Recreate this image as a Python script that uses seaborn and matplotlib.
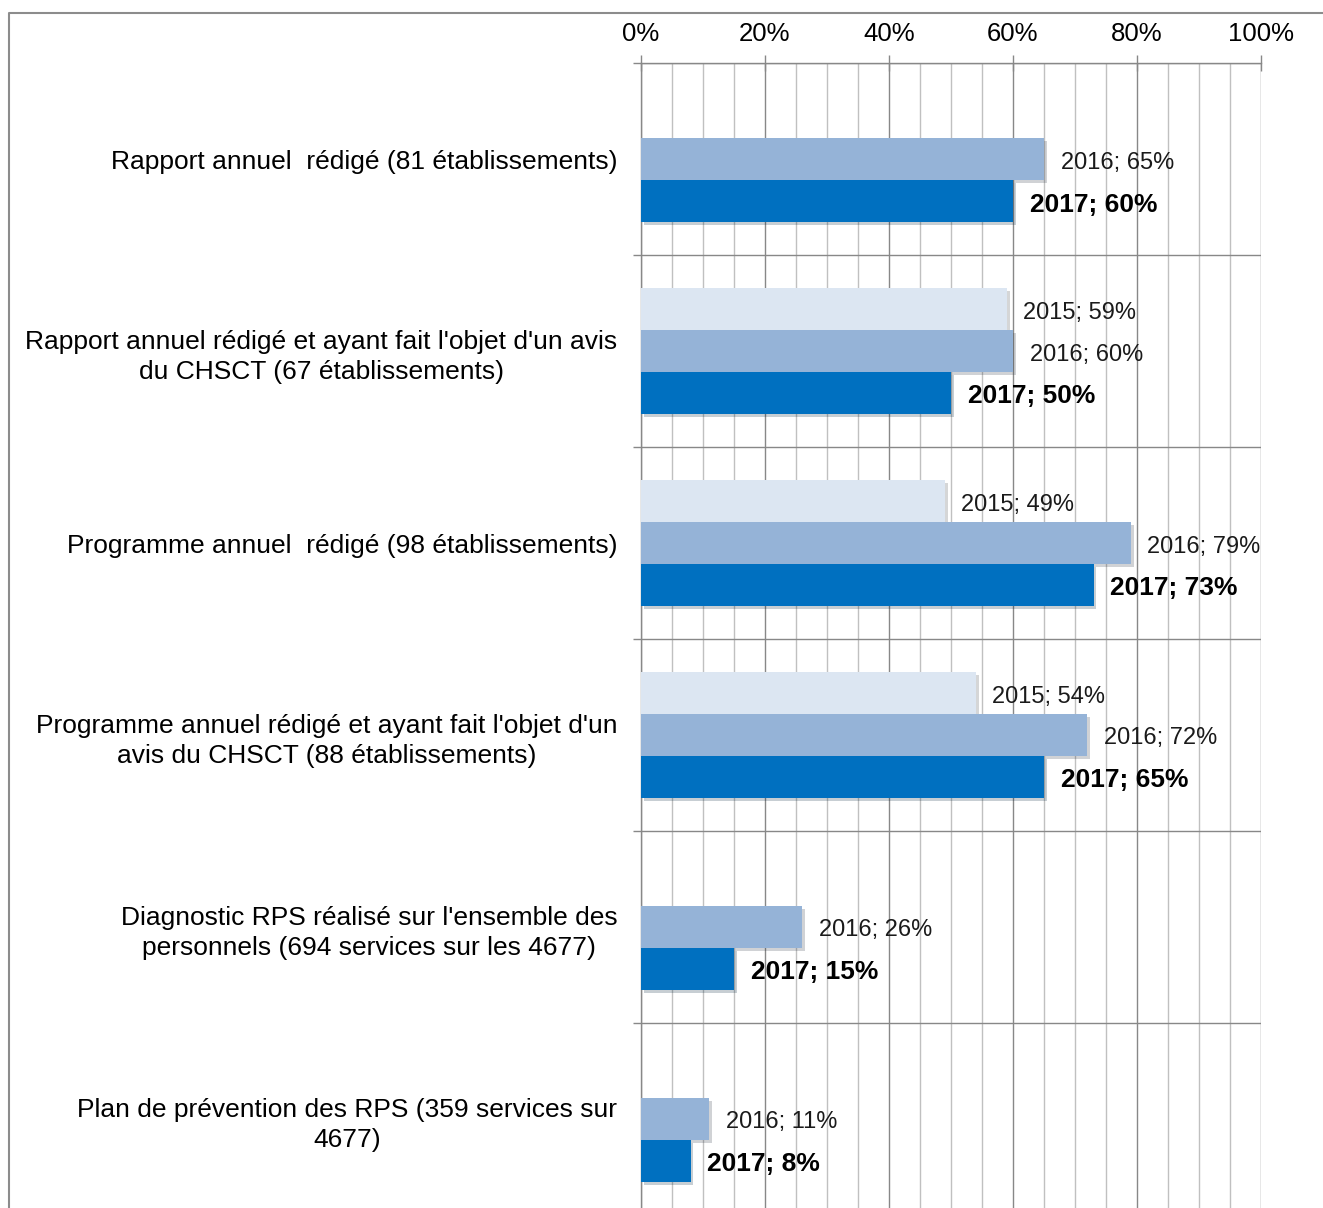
import pandas as pd
import matplotlib
matplotlib.use("Agg")
import matplotlib.pyplot as plt
import matplotlib.patheffects as pe
from matplotlib.lines import Line2D
from matplotlib.ticker import MultipleLocator, FixedLocator
import seaborn as sns

sns.set_theme(style="white")
plt.rcParams['font.family'] = ['Liberation Sans', 'DejaVu Sans']
plt.rcParams['text.color'] = 'black'
plt.rcParams['xtick.color'] = 'black'
plt.rcParams['ytick.color'] = 'black'

# Data
categories = [
    "Rapport annuel  rédigé (81 établissements)",
    "Rapport annuel rédigé et ayant fait l'objet d'un avis\ndu CHSCT (67 établissements)",
    "Programme annuel  rédigé (98 établissements)",
    "Programme annuel rédigé et ayant fait l'objet d'un\navis du CHSCT (88 établissements)",
    "Diagnostic RPS réalisé sur l'ensemble des\npersonnels (694 services sur les 4677)",
    "Plan de prévention des RPS (359 services sur\n4677)",
]
years = ["2015", "2016", "2017"]
vals_2015 = [None, 59, 49, 54, None, None]
vals_2016 = [65, 60, 79, 72, 26, 11]
vals_2017 = [60, 50, 73, 65, 15, 8]
colors = ["#dce6f2", "#95b3d7", "#0070c0"]

rows = []
for yr, vals in zip(years, [vals_2015, vals_2016, vals_2017]):
    for cat, v in zip(categories, vals):
        if v is not None:
            rows.append({"categorie": cat, "annee": yr, "pct": v})
df = pd.DataFrame(rows)

fig = plt.figure(figsize=(13.23, 12.08), dpi=100)
ax = fig.add_axes([0.4845, -0.0058, 0.4686, 0.9536])

sns.barplot(data=df, x="pct", y="categorie", hue="annee", order=categories,
            hue_order=years, palette=colors, orient="h", width=0.656,
            saturation=1, legend=False, ax=ax, zorder=3)

shadow = [pe.SimplePatchShadow(offset=(2, -2), alpha=0.22), pe.Normal()]
for p in ax.patches:
    p.set_path_effects(shadow)
    p.set_edgecolor("none")

for i, cont in enumerate(ax.containers):
    yr = years[i]
    labels = [f"{yr}; {v:.0f}%" for v in cont.datavalues]
    bold = yr == "2017"
    anns = ax.bar_label(cont, labels=labels, padding=12,
                        fontsize=19 if bold else 17,
                        fontweight="bold" if bold else "normal",
                        color="black" if bold else "#1a1a1a")
    for a in anns:
        a.xyann = (12, -2.5)

ax.set_xlim(0, 100)
ax.set_ylim(len(categories) - 0.5, -0.5)
ax.set_xlabel("")
ax.set_ylabel("")

# x axis on top
ax.xaxis.tick_top()
ax.set_xticks([0, 20, 40, 60, 80, 100])
ax.set_xticklabels([f"{v}%" for v in range(0, 101, 20)])
ax.xaxis.set_minor_locator(MultipleLocator(5))
ax.tick_params(axis="x", which="major", direction="inout", length=12, width=1,
               color="#888888", labelcolor="black", labelsize=18.5, pad=6,
               top=True, bottom=False)
ax.tick_params(axis="x", which="minor", length=0)

# y: labels at centres, separators at boundaries
ax.yaxis.set_minor_locator(FixedLocator([i + 0.5 for i in range(-1, len(categories))]))
ax.tick_params(axis="y", which="major", length=0, labelsize=19,
               labelcolor="black", pad=17)
ax.tick_params(axis="y", which="minor", direction="out", length=6, width=1,
               color="#888888", left=True)
for lbl in ax.get_yticklabels():
    lbl.set_multialignment("center")
    lbl.set_linespacing(1.32)

ax.grid(False)
ax.grid(axis="x", which="major", color="#888888", linewidth=1, zorder=0)
ax.grid(axis="x", which="minor", color="#c0c0c0", linewidth=1, zorder=0)
ax.grid(axis="y", which="minor", color="#888888", linewidth=1, zorder=0)
ax.set_axisbelow(True)

for side in ["right", "bottom"]:
    ax.spines[side].set_visible(False)
for side in ["left", "top"]:
    ax.spines[side].set_color("#888888")
    ax.spines[side].set_linewidth(1)

# outer frame of the picture
fig.add_artist(Line2D([0.0065, 0.0065, 1.0], [0.0, 0.9892, 0.9892],
                      transform=fig.transFigure, color="#8c8c8c", linewidth=1.5))

fig.savefig("out.png", dpi=100)
